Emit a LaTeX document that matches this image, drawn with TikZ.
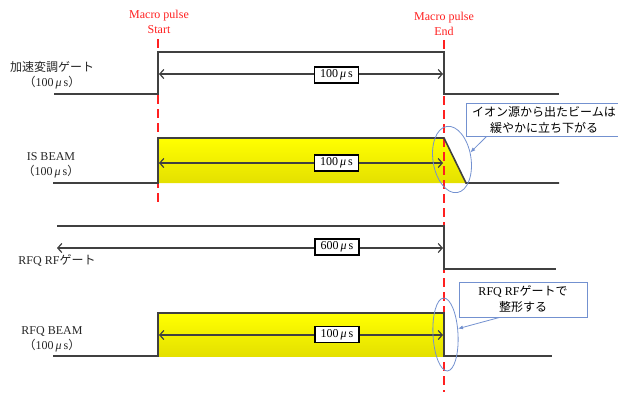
\documentclass[tikz,border=0pt]{standalone}
\usepackage{fontspec}
\setmainfont{Liberation Serif}
\newfontfamily\jp{Noto Sans CJK JP}
\usetikzlibrary{arrows.meta,shapes.geometric,positioning}
\definecolor{sig}{HTML}{404040}
\definecolor{pulsered}{HTML}{FF2020}
\definecolor{note}{HTML}{7391D0}
\definecolor{beamtop}{HTML}{FFFF00}
\definecolor{beambot}{HTML}{E4E000}
\newcommand{\dur}[1]{#1\,\textit{μ}\,s}
\newcommand{\jdur}{{\jp （}\dur{100}{\jp ）}}

\begin{document}
\begin{tikzpicture}[x=1pt,y=-1pt,font=\fontsize{12}{15}\selectfont]
    \tikzstyle{sigline}=[sig, line width=1.6pt, line join=miter]
    \tikzstyle{durarrow}=[sig, line width=1.2pt, {Straight Barb[length=4pt,width=9pt]}-{Straight Barb[length=4pt,width=9pt]}]
    \tikzstyle{durbox}=[draw=black, line width=1.2pt, fill=white, minimum width=44, minimum height=16, inner sep=1pt]
    \tikzstyle{pulseline}=[pulsered, line width=1.4pt, dash pattern=on 9pt off 5pt]
    \tikzstyle{notebox}=[draw=note, line width=0.8pt, fill=white, align=center, inner sep=2pt, font=\jp\fontsize{12}{16}\selectfont]
    \tikzstyle{ring}=[ellipse, draw=note, line width=0.8pt, inner sep=0pt]
    \tikzstyle{noteline}=[note, line width=0.8pt, -{Latex[length=5pt,width=4pt]}]
    \tikzstyle{signame}=[black!85, align=center, inner sep=0pt]

    \clip (0,0) rectangle (618,392);

    \shade[top color=beamtop, bottom color=beambot] (159,139) -- (444,139) -- (466,183) -- (159,183) -- cycle;
    \shade[top color=beamtop, bottom color=beambot] (159,314) rectangle (444,356);

    \node[pulsered, align=center] (ts) at (159,22) {Macro pulse\\Start};
    \node[pulsered, align=center] (te) at (444,24) {Macro pulse\\End};
    \draw[pulseline] (158,39) -- (158,205);
    \draw[pulseline] (444,40) -- (444,392);

    \draw[sigline] (54,94) -- (158,94) -- (158,52) -- (444,52) -- (444,94) -- (559,94);
    \draw[sigline] (53,183) -- (158,183) -- (158,138) -- (444,138) -- (466,183) -- (559,183);
    \draw[sigline] (57,226) -- (444,226) -- (444,269) -- (556,269);
    \draw[sigline] (53,356) -- (158,356) -- (158,313) -- (444,313) -- (444,356) -- (552,356);

    \node[signame] (ga) at (52,75.5) {{\jp 加速変調ゲート}\\\jdur};
    \node[signame] (is) at (51,165) {IS BEAM\\\jdur};
    \node[signame] (rf) at (57,260) {RFQ RF{\jp ゲート}};
    \node[signame] (rb) at (52,339.5) {RFQ BEAM\\\jdur};

    \coordinate (a1) at (159,74);  \coordinate (b1) at (443,74);
    \coordinate (a2) at (159,163); \coordinate (b2) at (443,163);
    \coordinate (a3) at (57,248);  \coordinate (b3) at (443,248);
    \coordinate (a4) at (159,335); \coordinate (b4) at (443,335);
    \draw[durarrow] (a1) -- (b1);
    \draw[durarrow] (a2) -- (b2);
    \draw[durarrow] (a3) -- (b3);
    \draw[durarrow] (a4) -- (b4);
    \node[durbox] (d1) at (336.5,75) {\dur{100}};
    \node[durbox] (d2) at (336.5,163) {\dur{100}};
    \node[durbox] (d3) at (337,247) {\dur{600}};
    \node[durbox] (d4) at (337,334.5) {\dur{100}};

    \node[ring, minimum width=38, minimum height=67, rotate=9] (eis) at (452,159.5) {};
    \node[ring, minimum width=25, minimum height=73, rotate=3] (erf) at (445.5,334.5) {};

    \node[notebox, minimum width=156, minimum height=33] (cis) at (544,119.5) {イオン源から出たビームは\\緩やかに立ち下がる};
    \node[notebox, minimum width=128, minimum height=35] (crf) at (523,299.5) {{\rmfamily RFQ RF}ゲートで\\整形する};
    \draw[noteline] ([xshift=21pt]cis.south west) -- (eis.12);
    \draw[noteline] ([xshift=41pt]crf.south west) -- (erf.22);
\end{tikzpicture}
\end{document}
